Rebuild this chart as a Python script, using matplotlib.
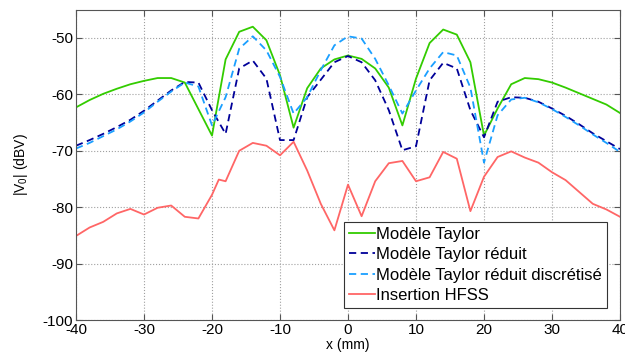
import matplotlib
matplotlib.use("Agg")
import matplotlib.pyplot as plt

plt.rcParams['font.family'] = ['Liberation Sans', 'DejaVu Sans']
plt.rcParams['axes.unicode_minus'] = False
plt.rcParams['mathtext.fontset'] = 'custom'
plt.rcParams['mathtext.rm'] = 'Liberation Sans'
plt.rcParams['mathtext.it'] = 'Liberation Sans'
plt.rcParams['mathtext.default'] = 'regular'

x_model = list(range(-40, 41, 2))
taylor = [-62.3, -61.0, -59.9, -59.0, -58.2, -57.6, -57.1, -57.1, -57.9, -62.6,
          -67.3, -53.8, -48.9, -48.0, -50.4, -56.6, -65.9, -58.9, -55.4, -53.8,
          -53.1, -53.7, -55.4, -58.8, -65.5, -57.2, -50.9, -48.5, -49.4, -54.3,
          -67.3, -62.5, -58.2, -57.1, -57.3, -57.9, -58.8, -59.8, -60.8, -61.8, -63.3]
taylor_red = [-69.1, -68.1, -67.0, -65.8, -64.5, -62.9, -61.1, -59.3, -57.8, -57.9,
              -62.8, -67.0, -55.4, -54.0, -57.2, -68.1, -68.1, -60.5, -57.4, -54.3,
              -53.2, -54.3, -57.5, -62.8, -69.9, -69.2, -57.5, -54.4, -55.4, -62.8,
              -67.6, -61.3, -60.5, -60.6, -61.3, -62.5, -63.8, -65.3, -66.9, -68.3, -69.7]
taylor_disc = [-69.6, -68.6, -67.4, -66.2, -64.8, -63.2, -61.3, -59.5, -57.9, -58.6,
               -65.5, -60.5, -51.9, -49.7, -52.2, -56.9, -63.4, -60.5, -55.7, -51.3,
               -49.7, -50.1, -53.7, -58.4, -63.4, -59.3, -55.4, -52.5, -53.1, -58.8,
               -72.1, -63.7, -60.9, -60.6, -61.4, -62.6, -64.0, -65.5, -67.1, -68.6, -70.2]
x_hfss = [-40, -38, -36, -34, -32, -30, -28, -26, -24, -22, -20, -19, -18, -16, -14,
          -12, -10, -8, -6, -4, -2, 0, 2, 4, 6, 8, 10, 12, 14, 16, 18, 20, 22, 24,
          26, 28, 30, 32, 34, 36, 38, 40]
hfss = [-85.1, -83.6, -82.6, -81.1, -80.3, -81.3, -80.1, -79.7, -81.7, -82.0, -77.8,
        -75.1, -75.4, -70.0, -68.6, -69.1, -70.8, -68.4, -73.5, -79.4, -84.1, -76.0,
        -81.6, -75.4, -72.2, -71.8, -75.4, -74.7, -70.2, -71.4, -80.7, -74.6, -71.1,
        -70.1, -71.2, -72.1, -73.8, -75.2, -77.3, -79.4, -80.4, -81.7]

labels = ['Modèle Taylor', 'Modèle Taylor réduit', 'Modèle Taylor réduit discrétisé', 'Insertion HFSS']
colors = ['#33cc00', '#000099', '#1a9fff', '#ff6666']
xticks = list(range(-40, 41, 10))
yticks = list(range(-100, -49, 10))

fig = plt.figure(figsize=(6.25, 3.56), dpi=100)
ax = fig.add_axes([0.1216, 0.1011, 0.992 - 0.1216, 0.9725 - 0.1011])

ax.plot(x_model, taylor, color=colors[0], lw=1.3, label=labels[0])
ax.plot(x_model, taylor_red, color=colors[1], lw=1.3, ls=(0, (4, 2.5)), label=labels[1])
ax.plot(x_model, taylor_disc, color=colors[2], lw=1.3, ls=(0, (4, 2.5)), label=labels[2])
ax.plot(x_hfss, hfss, color=colors[3], lw=1.3, label=labels[3])

ax.set_xlim(-40, 40)
ax.set_ylim(-100, -45)
ax.set_xticks(xticks)
ax.set_yticks(yticks)
ax.grid(True, ls=':', color='#a0a0a0', lw=0.8)
ax.tick_params(direction='in', top=True, right=True, labelsize=11, length=4,
               color='#555555', pad=2)
for s in ax.spines.values():
    s.set_color('#555555')
    s.set_linewidth(0.8)
ax.set_xlabel('x (mm)', fontsize=10, labelpad=1)
ax.set_ylabel('|V$_0$| (dBV)', fontsize=10, labelpad=9)

leg = ax.legend(loc='lower right', bbox_to_anchor=(0.976, 0.039), borderaxespad=0,
                fontsize=12, handlelength=1.6, handletextpad=0.05, labelspacing=0.32,
                borderpad=0.3, fancybox=False, framealpha=1, edgecolor='#333333')
leg.get_frame().set_linewidth(0.8)

fig.savefig('out.png', dpi=100)
